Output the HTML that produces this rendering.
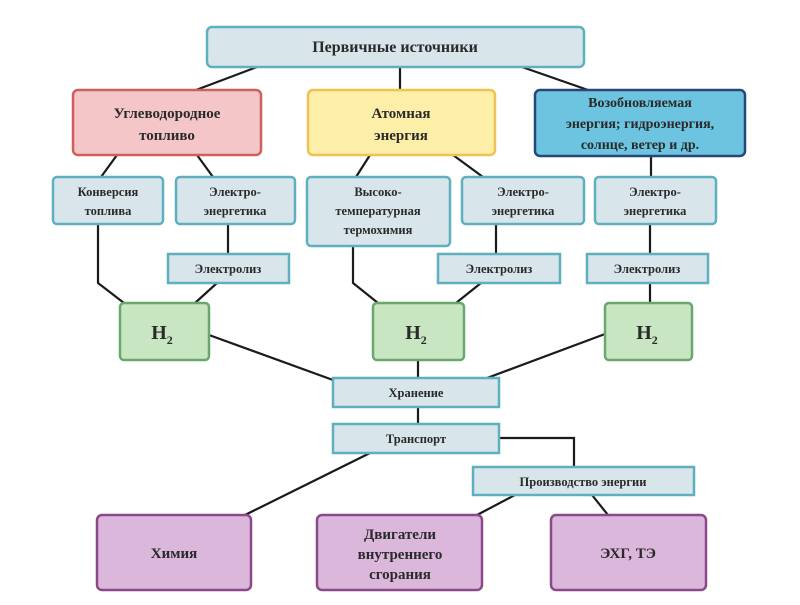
<!DOCTYPE html>
<html><head><meta charset="utf-8"><style>
html,body{margin:0;padding:0;background:#fff;}
svg text{font-family:"Liberation Serif","Noto Serif CJK SC",serif;fill:#2a2a2a;font-weight:bold;text-anchor:middle;}
</style></head><body>
<svg width="800" height="600" viewBox="0 0 800 600" xmlns="http://www.w3.org/2000/svg">
<g stroke="#1a1a1a" stroke-width="2.2" fill="none">
<line x1="257" y1="67" x2="196" y2="90"/>
<line x1="400" y1="67" x2="400" y2="90"/>
<line x1="522" y1="67" x2="588" y2="90"/>
<line x1="117" y1="155" x2="101" y2="177"/>
<line x1="197" y1="155" x2="213" y2="177"/>
<line x1="370" y1="155" x2="356" y2="177"/>
<line x1="453" y1="155" x2="483" y2="177"/>
<line x1="651" y1="156" x2="651" y2="177"/>
<polyline points="98,224 98,283 124,303"/>
<line x1="228" y1="224" x2="228" y2="254"/>
<line x1="217" y1="283" x2="195" y2="303"/>
<polyline points="353,246 353,283 378,303"/>
<line x1="496" y1="224" x2="496" y2="254"/>
<line x1="481" y1="283" x2="456" y2="303"/>
<line x1="650" y1="224" x2="650" y2="254"/>
<line x1="650" y1="283" x2="650" y2="303"/>
<line x1="209" y1="335" x2="333" y2="380"/>
<line x1="418" y1="360" x2="418" y2="378"/>
<line x1="605" y1="334" x2="487" y2="378"/>
<line x1="418" y1="407" x2="418" y2="424"/>
<polyline points="499,438 574,438 574,467"/>
<line x1="370" y1="453" x2="245" y2="515"/>
<line x1="515" y1="495" x2="477" y2="515"/>
<line x1="592" y1="495" x2="608" y2="515"/>
</g>
<g stroke-width="2.5">
<rect x="207" y="27" width="377" height="40" rx="5" fill="#d8e6ec" stroke="#5fb0bf"/>
<rect x="73" y="90" width="188" height="65" rx="5" fill="#f4c6c7" stroke="#cf5e5e"/>
<rect x="308" y="90" width="187" height="65" rx="5" fill="#fdeea8" stroke="#eec253"/>
<rect x="535" y="90" width="210" height="66" rx="5" fill="#6cc4e0" stroke="#27477a"/>
<g fill="#d8e6ec" stroke="#5fb0bf">
<rect x="53" y="177" width="110" height="47" rx="4"/>
<rect x="176" y="177" width="119" height="47" rx="4"/>
<rect x="307" y="177" width="143" height="69" rx="4"/>
<rect x="462" y="177" width="122" height="47" rx="4"/>
<rect x="595" y="177" width="121" height="47" rx="4"/>
<rect x="168" y="254" width="121" height="29"/>
<rect x="438" y="254" width="122" height="29"/>
<rect x="587" y="254" width="121" height="29"/>
<rect x="333" y="378" width="166" height="29"/>
<rect x="333" y="424" width="166" height="29"/>
<rect x="473" y="467" width="221" height="28"/>
</g>
<g fill="#c8e6c1" stroke="#68a86e">
<rect x="120" y="303" width="89" height="57" rx="4"/>
<rect x="373" y="303" width="91" height="57" rx="4"/>
<rect x="605" y="303" width="87" height="57" rx="4"/>
</g>
<g fill="#dcb7dc" stroke="#8a4a88">
<rect x="97" y="515" width="154" height="75" rx="5"/>
<rect x="317" y="515" width="165" height="75" rx="5"/>
<rect x="551" y="515" width="155" height="75" rx="5"/>
</g>
</g>
<text x="395" y="52" font-size="16">Первичные  источники</text>
<text x="167" y="118" font-size="15">Углеводородное</text>
<text x="167" y="140" font-size="15">топливо</text>
<text x="401" y="118" font-size="15">Атомная</text>
<text x="401" y="140" font-size="15">энергия</text>
<text x="640" y="107" font-size="14">Возобновляемая</text>
<text x="640" y="128" font-size="14">энергия; гидроэнергия,</text>
<text x="640" y="149" font-size="14">солнце, ветер и др.</text>
<g font-size="12.5">
<text x="108" y="196">Конверсия</text>
<text x="108" y="215">топлива</text>
<text x="235" y="196">Электро-</text>
<text x="235" y="215">энергетика</text>
<text x="378" y="196">Высоко-</text>
<text x="378" y="215">температурная</text>
<text x="378" y="234">термохимия</text>
<text x="523" y="196">Электро-</text>
<text x="523" y="215">энергетика</text>
<text x="655" y="196">Электро-</text>
<text x="655" y="215">энергетика</text>
<text x="228" y="273">Электролиз</text>
<text x="499" y="273">Электролиз</text>
<text x="647" y="273">Электролиз</text>
<text x="416" y="397">Хранение</text>
<text x="416" y="443">Транспорт</text>
<text x="583" y="486">Производство энергии</text>
</g>
<g font-size="20" font-weight="normal">
<text x="162" y="339">H<tspan font-size="12" dy="5">2</tspan></text>
<text x="416" y="339">H<tspan font-size="12" dy="5">2</tspan></text>
<text x="647" y="339">H<tspan font-size="12" dy="5">2</tspan></text>
</g>
<g font-size="15">
<text x="174" y="558">Химия</text>
<text x="400" y="539">Двигатели</text>
<text x="400" y="559">внутреннего</text>
<text x="400" y="579">сгорания</text>
<text x="628" y="558">ЭХГ, ТЭ</text>
</g>
</svg>
</body></html>
